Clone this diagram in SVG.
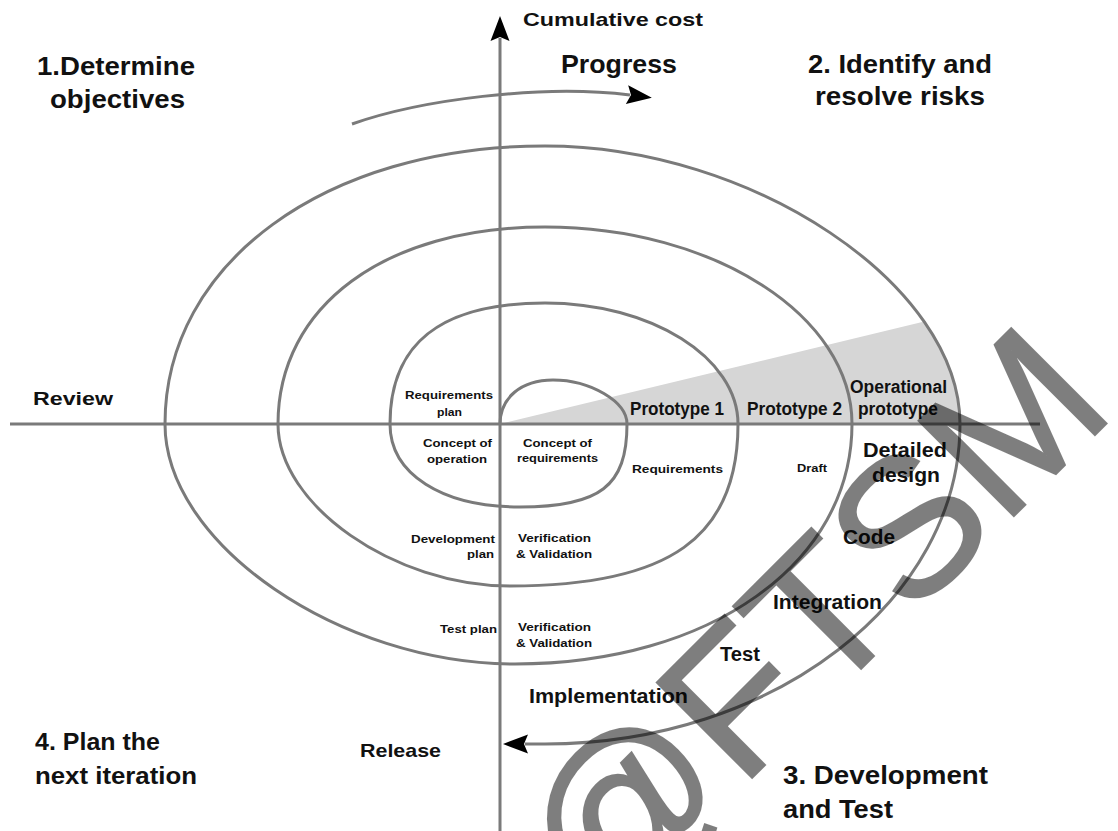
<svg xmlns="http://www.w3.org/2000/svg" width="1118" height="831" viewBox="0 0 1118 831">
<defs>
<style>
text{font-family:"Liberation Sans",Arial,sans-serif;font-weight:bold;fill:#111}
.t25{font-size:25px}
.t24{font-size:24px}
.t20{font-size:20px}
.t19{font-size:19px}
.t18{font-size:18px}
.t11{font-size:11.5px}
.ln{fill:none;stroke:#7a7a7a;stroke-width:3}
.wm{font-family:"Liberation Sans",Arial,sans-serif;font-weight:normal;font-size:196px;fill:#000;stroke:#000;stroke-width:2}
</style>
<marker id="ah" markerUnits="userSpaceOnUse" markerWidth="30" markerHeight="24" viewBox="-2 -12 30 24" refX="3" refY="0" orient="auto">
<path d="M25,0 L0,-9.5 L4,0 L0,9.5 Z" fill="#000"/>
</marker>
</defs>
<rect width="1118" height="831" fill="#fff"/>
<path id="prototype-band" d="M500,424 L924.3,321.5 C947,353.9 960,388.4 960,424 Z" fill="#d6d6d6"/>
<g id="connectors">
<path class="ln" d="M10,424 L1040,424"/>
<path class="ln" d="M500,831 L500,38" marker-end="url(#ah)"/>
<path class="ln" d="M500,424 C500,398 521,380 553,380 C590,380 627,401.5 627,424 C627,486 600,507 520,507 C442,507 390,474 390,424 C390,343 441,303 545,303 C651,303 738,357.5 738,424 C738,537 670,586 510,586 C394,586 278,505 278,424 C278,306 385,227 545,227 C714,227 852,316 852,424 C852,563 710,664 515,664 C340,664 165,544 165,424 C165,263 325,146 545,146 C752.5,146 960,285 960,424 C960,600 773,744 545,744 L525,744" marker-end="url(#ah)"/>
<path class="ln" d="M352,124 C420,100 540,84 630,95" marker-end="url(#ah)"/>
</g>
<g id="cumulative-cost"><text class="t19" x="523" y="26" textLength="180" lengthAdjust="spacingAndGlyphs">Cumulative cost</text></g>
<g id="progress"><text class="t25" x="561" y="73" textLength="116" lengthAdjust="spacingAndGlyphs">Progress</text></g>
<g id="q1"><text class="t25" x="37" y="75" textLength="158" lengthAdjust="spacingAndGlyphs">1.Determine</text><text class="t25" x="50" y="108" textLength="135" lengthAdjust="spacingAndGlyphs">objectives</text></g>
<g id="q2"><text class="t25" x="808" y="73" textLength="184" lengthAdjust="spacingAndGlyphs">2. Identify and</text><text class="t25" x="815" y="105" textLength="170" lengthAdjust="spacingAndGlyphs">resolve risks</text></g>
<g id="review"><text class="t18" x="33" y="405" textLength="80" lengthAdjust="spacingAndGlyphs">Review</text></g>
<g id="requirements-plan"><text class="t11" x="405" y="399" textLength="88" lengthAdjust="spacingAndGlyphs">Requirements</text><text class="t11" x="437" y="416" textLength="25" lengthAdjust="spacingAndGlyphs">plan</text></g>
<g id="concept-of-operation"><text class="t11" x="423" y="447" textLength="69" lengthAdjust="spacingAndGlyphs">Concept of</text><text class="t11" x="427" y="463" textLength="60" lengthAdjust="spacingAndGlyphs">operation</text></g>
<g id="concept-of-requirements"><text class="t11" x="523" y="447" textLength="69" lengthAdjust="spacingAndGlyphs">Concept of</text><text class="t11" x="517" y="462" textLength="81" lengthAdjust="spacingAndGlyphs">requirements</text></g>
<g id="prototype-1"><text class="t18" x="630" y="415" textLength="94" lengthAdjust="spacingAndGlyphs">Prototype 1</text></g>
<g id="prototype-2"><text class="t18" x="747" y="415" textLength="95" lengthAdjust="spacingAndGlyphs">Prototype 2</text></g>
<g id="operational-prototype"><text class="t18" x="850" y="393" textLength="97" lengthAdjust="spacingAndGlyphs">Operational</text><text class="t18" x="858" y="415" textLength="80" lengthAdjust="spacingAndGlyphs">prototype</text></g>
<g id="requirements"><text class="t11" x="632" y="473" textLength="91" lengthAdjust="spacingAndGlyphs">Requirements</text></g>
<g id="draft"><text class="t11" x="797" y="472" textLength="30" lengthAdjust="spacingAndGlyphs">Draft</text></g>
<g id="detailed-design"><text class="t20" x="863" y="457" textLength="84" lengthAdjust="spacingAndGlyphs">Detailed</text><text class="t20" x="872" y="482" textLength="68" lengthAdjust="spacingAndGlyphs">design</text></g>
<g id="code"><text class="t20" x="843" y="544" textLength="52" lengthAdjust="spacingAndGlyphs">Code</text></g>
<g id="integration"><text class="t20" x="773" y="609" textLength="109" lengthAdjust="spacingAndGlyphs">Integration</text></g>
<g id="test"><text class="t20" x="720" y="661" textLength="40" lengthAdjust="spacingAndGlyphs">Test</text></g>
<g id="implementation"><text class="t20" x="529" y="703" textLength="159" lengthAdjust="spacingAndGlyphs">Implementation</text></g>
<g id="development-plan"><text class="t11" x="411" y="543" textLength="84" lengthAdjust="spacingAndGlyphs">Development</text><text class="t11" x="467" y="558" textLength="27" lengthAdjust="spacingAndGlyphs">plan</text></g>
<g id="vv-1"><text class="t11" x="518" y="542" textLength="73" lengthAdjust="spacingAndGlyphs">Verification</text><text class="t11" x="516" y="558" textLength="76" lengthAdjust="spacingAndGlyphs">&amp; Validation</text></g>
<g id="test-plan"><text class="t11" x="440" y="633" textLength="57" lengthAdjust="spacingAndGlyphs">Test plan</text></g>
<g id="vv-2"><text class="t11" x="518" y="631" textLength="73" lengthAdjust="spacingAndGlyphs">Verification</text><text class="t11" x="516" y="647" textLength="76" lengthAdjust="spacingAndGlyphs">&amp; Validation</text></g>
<g id="q4"><text class="t24" x="35" y="750" textLength="125" lengthAdjust="spacingAndGlyphs">4. Plan the</text><text class="t24" x="35" y="784" textLength="162" lengthAdjust="spacingAndGlyphs">next iteration</text></g>
<g id="release"><text class="t19" x="360" y="757" textLength="81" lengthAdjust="spacingAndGlyphs">Release</text></g>
<g id="q3"><text class="t25" x="783" y="784" textLength="205" lengthAdjust="spacingAndGlyphs">3. Development</text><text class="t25" x="783" y="818" textLength="110" lengthAdjust="spacingAndGlyphs">and Test</text></g>
<g id="watermark" opacity="0.5"><text class="wm" transform="translate(600,930) rotate(-45)">@FTSM</text></g>
</svg>
